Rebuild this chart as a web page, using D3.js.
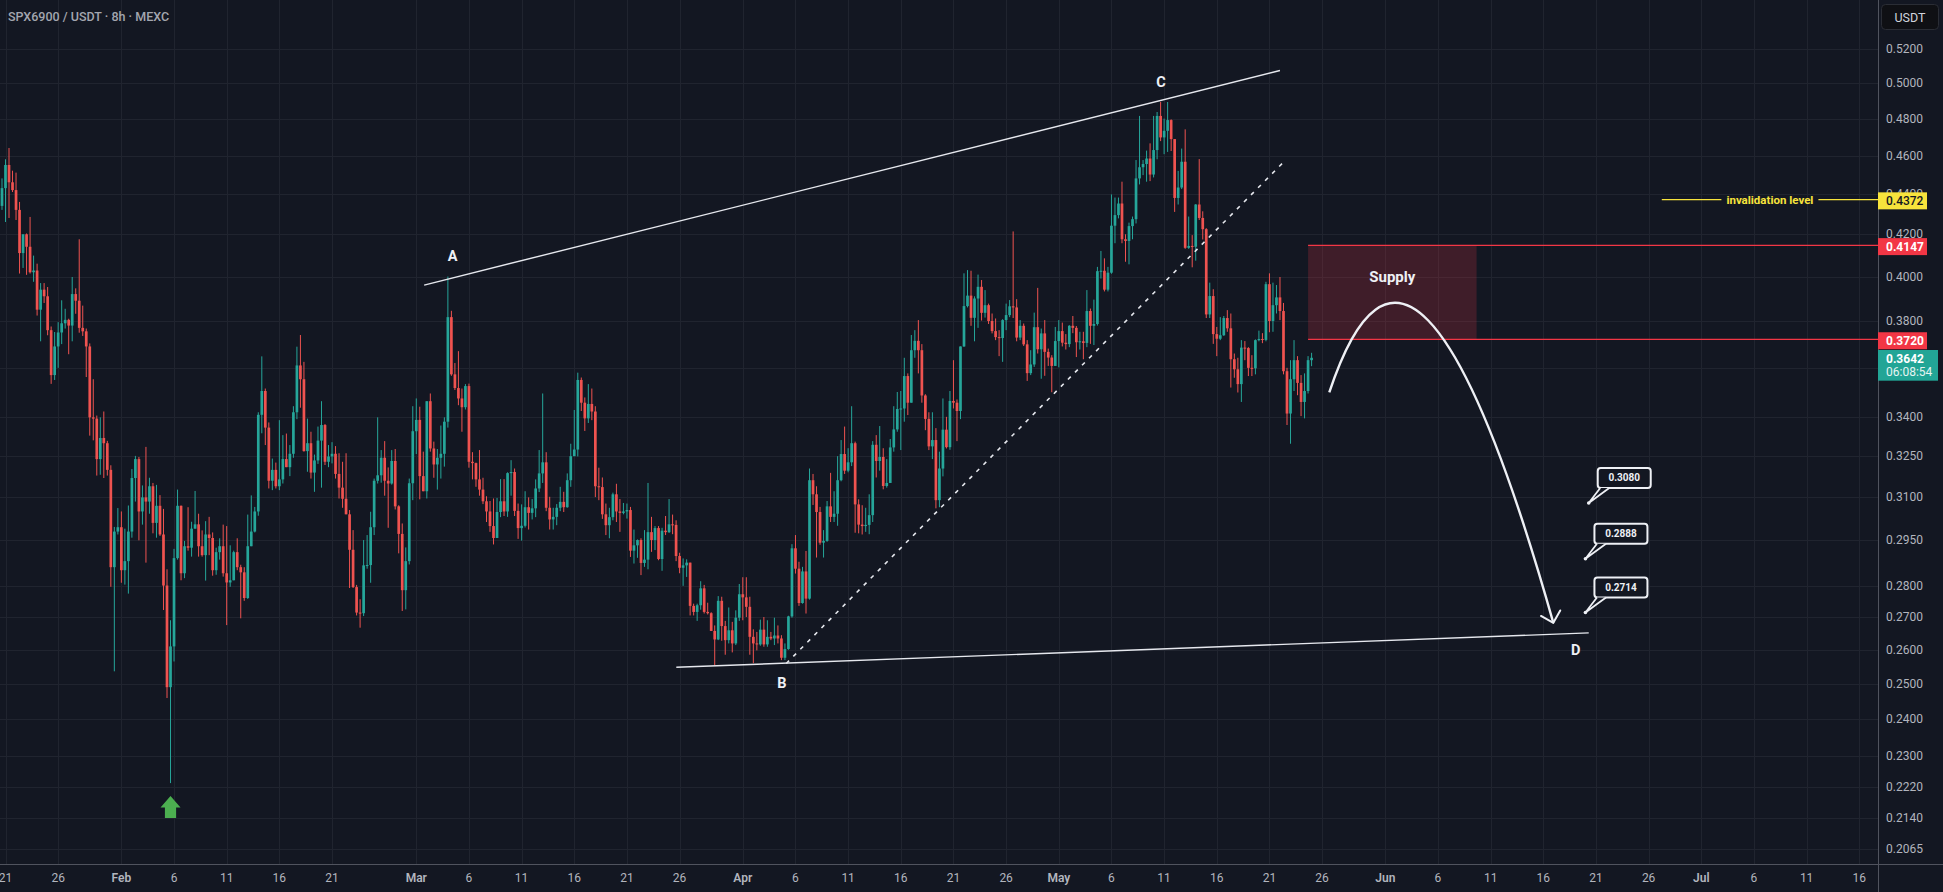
<!DOCTYPE html>
<html>
<head>
<meta charset="utf-8">
<script src="https://cdn.jsdelivr.net/npm/d3@7"></script>
<style>
  html, body { margin: 0; padding: 0; background: #131722; overflow: hidden; }
  svg { display: block; font-family: Roboto, "Noto Sans", sans-serif; }
</style>
</head>
<body>
<svg id="chart" width="1943" height="892"></svg>
<script>
(function () {
  'use strict';

  /* ── Candles: 8h bars, open = previous close ── */
  var firstCandle = '2025-01-20T08:00:00Z';
  var candleHours = 8;
  var firstOpen = 0.445;

  var closes = [
    .434,.443,.455,.446,.442,.432,.411,.420,.414,.402, .4028,.385,.394,.391,.376,.357,.369,.375,.379,.3805,
    .378,.392,.389,.377,.3755,.369,.340,.3395,.324,.332, .330,.320,.286,.298,.2995,.285,.288,.298,.317,.324,
    .305,.310,.3085,.314,.301,.307,.297,.280,.249,.261, .289,.307,.284,.293,.2925,.299,.3005,.293,.290,.297,
    .2958,.285,.291,.293,.284,.281,.2817,.291,.286,.2843, .276,.293,.298,.305,.341,
    .3505,.336,.316,.320,.314,.3165,.324,.321,.326,.342, .361,.3553,.327,.330,.319,.3235,.331,.337,.323,.325,
    .326,.3185,.3135,.3095,.304,.2918,.2795,.2714,.2712,.2866, .2867,.2995,.316,.318,.3245,.316,.315,.3233,.3068,.2972,
    .2785,.288,.3151,.3346,.339,.3177,.3122,.3464,.328,.322, .3245,.326,.3383,.3817,.3573,.3517,.3475,.344,.3525,.323,
    .3225,.3165,.3128,.3086,.305,.2999,.2958,.3048,.3086,.305, .3188,.3192,.3052,.2992,.300,.3065,
    .3045,.3061,.3132,.3187,.3228,.3063,.3022,.3031,.3063,.3084, .3065,.3162,.3251,.3276,.355,.3458,.3396,.3453,.3423,.314,
    .3137,.304,.3002,.303,.3111,.305,.3045,.305,.3055,.2915, .2933,.2951,.2874,.2885,.2978,.2951,.2992,.2887,.2983,.2978,
    .3005,.3003,.2897,.2858,.2866,.2875,.2735,.2716,.2737,.2791, .2716,.2712,.2657,.2631,.2751,.2672,.2629,.2659,.2619,.2698,
    .2772,.2762,.2732,.2639,.2619,.2616,.2661,.2616,.2639,.2634, .2643,.2634,.2576,.2602,.2702,.2923,.2855,
    .2744,.2846,.2758,.3162,.3111,.3048,.2942,.2948,.3068,.3031, .3042,.3162,.3259,.3197,.3228,.330,.3075,.3004,.2999,.3003,
    .3037,.3294,.3233,.3248,.3141,.3152,.3284,.3353,.3433,.3435, .3566,.3458,.3674,.3714,.3674,.3487,.3394,.3288,.3312,.309,
    .3205,.3352,.3285,.3465,.3458,.3425,.369,.3866,.3913,.3814, .390,.3953,.3836,.387,.380,.3756,.373,.3726,.3804,.3826,
    .3865,.386,.3728,.3779,.3699,.3578,.3614,.3773,.3678,.3746, .3667,.3643,.3608,.3713,.3756,.3706,
    .370,.3779,.377,.3708,.3712,.3705,.3844,.3779,.3787,.4025, .4027,.394,.4018,.4242,.4294,.4352,.4176,.4168,.424,.4274,
    .448,.4538,.4555,.4584,.450,.4629,.4815,.4697,.4733,.4792, .4688,.438,.4433,.4567,.4135,.4144,.414,.4347,.428,.4225,
    .3829,.3911,.3743,.3723,.3738,.3813,.3768,.3636,.3594,.3533, .3685,.3683,.360,.3598,.3717,.3722,.3718,.3965,.380,.387,
    .3905,.3844,.3586,.3415,.3553,.3632,.3538,.3461,.3505,.3632, .3642
  ];

  var highs = [
    .447,.448,.458,.464,.452,.451,.436,.420,.4204,.4285, .4098,.406,.397,.397,.3952,.3776,.3752,.3795,.3892,.3854,
    .381,.3998,.3946,.4176,.3868,.3767,.3703,.3553,.3407,.340, .3423,.3309,.3217,.2996,.3062,.305,.299,.3071,.3203,.3252,
    .3248,.3143,.3286,.3171,.3152,.3145,.3108,.3059,.2853,.269, .2921,.3128,.3071,.2948,.3065,.3014,.3123,.3042,.2984,.3016,
    .3031,.2977,.2925,.2957,.3004,.2999,.2933,.2915,.2957,.2868, .286,.3039,.3107,.3066,.342,
    .3648,.3515,.338,.3242,.3227,.3389,.3331,.3337,.3293,.3444, .3689,.3739,.3625,.3395,.3344,.3257,.3364,.3464,.3374,.3293,
    .3304,.3289,.3262,.323,.3262,.3055,.2985,.2802,.2756,.2951, .2968,.3049,.3168,.340,.3274,.3308,.3209,.3274,.3278,.3072,
    .3008,.2926,.3168,.3444,.3475,.3442,.3268,.3464,.3495,.3306, .3278,.3368,.340,.400,.3845,.362,.367,.3515,.3533,.3535,
    .3266,.3227,.3274,.3171,.3104,.3087,.3096,.3098,.3166,.3166, .3191,.3236,.3205,.3078,.3075,.3122,
    .310,.3094,.3165,.3274,.3495,.3266,.3102,.3063,.3076,.3138, .312,.3187,.3298,.3429,.358,.356,.3479,.3533,.3515,.3444,
    .3208,.3172,.3078,.3063,.3117,.3149,.3094,.308,.3078,.3066, .2987,.2953,.2957,.2985,.3152,.3031,.2999,.2999,.2993,.3034,
    .3094,.3039,.3019,.2908,.2889,.2886,.2874,.2742,.2742,.2814, .2802,.2745,.2715,.2674,.2766,.2764,.2688,.273,.2685,.2721,
    .2805,.2827,.2827,.2764,.2662,.2654,.2692,.270,.269,.2654, .2698,.2674,.2644,.2619,.2704,.2937,.2968,
    .2878,.2861,.2914,.3205,.3185,.314,.3066,.2985,.3087,.3189, .3122,.3251,.3312,.3364,.3281,.3444,.3306,.3093,.3072,.3063,
    .3111,.3308,.3331,.3366,.3281,.324,.3316,.3444,.3501,.3505, .3642,.3577,.3739,.376,.3804,.370,.3492,.342,.342,.3358,
    .3268,.3475,.3402,.3505,.3632,.3471,.369,.4015,.403,.4027, .391,.4009,.3984,.3938,.3877,.3833,.3811,.376,.3808,.3877,
    .3893,.4214,.3897,.3804,.3789,.3717,.3674,.3837,.3948,.3767, .3804,.3681,.3653,.3774,.3804,.3793,
    .3743,.3782,.3822,.3778,.3753,.3753,.3938,.3855,.3895,.4045, .412,.4085,.4045,.4398,.4382,.4382,.4463,.420,.4257,.4287,
    .4576,.4815,.4576,.4626,.4665,.4815,.4837,.4893,.480,.4893, .4796,.4687,.4519,.4637,.4741,.4287,.4196,.4349,.4581,.4313,
    .423,.3972,.3942,.3774,.3817,.3822,.3848,.3833,.366,.3642, .3717,.3713,.3687,.3653,.372,.3758,.3747,.3976,.4015,.3972,
    .3961,.3998,.388,.360,.3632,.3717,.3649,.357,.3577,.3649, .3663
  ];

  var lows = [
    .432,.432,.426,.428,.441,.427,.4014,.404,.4008,.4014, .3976,.3824,.3712,.388,.3738,.3534,.355,.36,.37,.3767,
    .3657,.3712,.3832,.3749,.3735,.3562,.3329,.3311,.3179,.3182, .317,.3179,.2796,.2536,.297,.2809,.2803,.2774,.2959,.3085,
    .295,.3004,.2875,.3042,.2974,.2959,.2965,.2722,.2459,.2229, .2565,.2885,.2817,.2824,.2915,.2895,.2995,.2895,.2895,.2816,
    .29,.2832,.2835,.2885,.2829,.2675,.2796,.2823,.285,.2696, .2751,.2757,.293,.2977,.3035,
    .3338,.3293,.3132,.3126,.3132,.3126,.315,.3211,.3177,.3245, .3393,.3438,.3268,.3193,.3168,.312,.3222,.3135,.3218,.321,
    .3224,.3168,.3096,.3063,.3042,.2792,.2792,.2705,.2667,.2703, .2855,.2809,.2968,.315,.3153,.3106,.2993,.3146,.3057,.2906,
    .2719,.2724,.2869,.309,.3259,.3093,.3122,.3096,.3268,.3171, .3128,.3168,.3212,.336,.3567,.3509,.3448,.3344,.3431,.3208,
    .3165,.3138,.3106,.3076,.3013,.2979,.2936,.2962,.3030,.3034, .3031,.3106,.3034,.2955,.2949,.2994,
    .2987,.3022,.303,.3119,.3152,.3051,.2987,.2987,.3002,.3051, .3048,.3063,.3138,.3252,.325,.3425,.3347,.3378,.3389,.3101,
    .309,.3024,.2968,.2957,.3019,.3013,.2979,.304,.3025,.2894, .2872,.2891,.2834,.2861,.2853,.2911,.2917,.2883,.2848,.2968,
    .2975,.2971,.288,.284,.2799,.2828,.2705,.2705,.2688,.2723, .2711,.2708,.2657,.2553,.2629,.2627,.2585,.2619,.2592,.2614,
    .2688,.269,.270,.2585,.256,.2598,.2612,.2609,.2609,.2629, .2614,.2619,.2569,.2569,.260,.2698,.2839,
    .2735,.2742,.2711,.2755,.3073,.2892,.2935,.2892,.2945,.3013, .3013,.300,.3158,.3185,.3191,.3214,.2976,.2974,.297,.2979,
    .2971,.3013,.3172,.3197,.3129,.3135,.3158,.3268,.3344,.3274, .3383,.3409,.3458,.3642,.3577,.3458,.335,.3274,.324,.3061,
    .3065,.3176,.328,.3275,.3435,.3308,.3393,.3688,.386,.3779, .3712,.377,.3802,.3815,.3787,.3746,.3717,.3649,.3625,.376,
    .3817,.3813,.3712,.3717,.3692,.3546,.357,.3604,.366,.3555, .3567,.3608,.350,.3611,.3602,.369,
    .3677,.3687,.3747,.3645,.3677,.3636,.3687,.3701,.3696,.3780, .3991,.3932,.3932,.4013,.4157,.4278,.4157,.4069,.4057,.4176,
    .4253,.4449,.4497,.4463,.4466,.4485,.458,.4677,.4607,.4619, .4624,.431,.4347,.4425,.413,.413,.4043,.4074,.427,.4175,
    .3813,.3813,.3701,.3649,.3717,.3735,.3753,.3519,.3559,.3499, .3461,.3632,.3566,.3566,.3573,.3712,.3704,.3712,.3751,.3753,
    .3833,.3804,.3573,.337,.3298,.3505,.3488,.3405,.3396,.3495, .3607
  ];

  /* ── Axes ── */
  var priceTicks = [0.52, 0.50, 0.48, 0.46, 0.44, 0.42, 0.40, 0.38, 0.36, 0.34, 0.325, 0.31,
                    0.295, 0.28, 0.27, 0.26, 0.25, 0.24, 0.23, 0.222, 0.214, 0.2065];
  /* 0.36 sits fully under the live-price tag, so it only gets a grid line */
  var hiddenTickLabels = [0.36];
  var dateTicks = [
    '2025-01-21', '2025-01-26',
    '2025-02-01', '2025-02-06', '2025-02-11', '2025-02-16', '2025-02-21',
    '2025-03-01', '2025-03-06', '2025-03-11', '2025-03-16', '2025-03-21', '2025-03-26',
    '2025-04-01', '2025-04-06', '2025-04-11', '2025-04-16', '2025-04-21', '2025-04-26',
    '2025-05-01', '2025-05-06', '2025-05-11', '2025-05-16', '2025-05-21', '2025-05-26',
    '2025-06-01', '2025-06-06', '2025-06-11', '2025-06-16', '2025-06-21', '2025-06-26',
    '2025-07-01', '2025-07-06', '2025-07-11', '2025-07-16'
  ];

  /* ── Drawings: [time, price] anchors ── */
  var lineAC = [['2025-03-01T18:00:00Z', 0.3961], ['2025-05-22T00:00:00Z', 0.5074]];
  var lineBD = [['2025-03-25T16:30:00Z', 0.2548], ['2025-06-20T07:30:00Z', 0.2651]];
  var lineDash = [['2025-04-05T03:00:00Z', 0.2559], ['2025-05-22T09:00:00Z', 0.4567]];
  var pathCurve = [['2025-05-26T16:20:00Z', 0.3499], ['2025-06-03T20:00:00Z', 0.4719], ['2025-06-16T22:50:00Z', 0.2682]];
  var waveLabels = [
    ['A', '2025-03-04T11:00:00Z', 0.4096],
    ['B', '2025-04-04T17:00:00Z', 0.2502],
    ['C', '2025-05-10T17:00:00Z', 0.5007],
    ['D', '2025-06-19T02:00:00Z', 0.2598]
  ];
  var supplyZone = ['2025-05-24T16:00:00Z', '2025-06-09T16:00:00Z', 0.4147, 0.3720];
  var invalidation = ['2025-06-27T06:00:00Z', 0.4372];
  var targets = [
    [0.3080, '2025-06-20T07:30:00Z'],
    [0.2888, '2025-06-20T00:00:00Z'],
    [0.2714, '2025-06-20T00:00:00Z']
  ];
  var bottomArrow = ['2025-02-05T16:00:00Z', 0.2196];
  var lastPrice = 0.3642;
  var countdown = '06:08:54';

  /* ── Colours ── */
  var BG = '#131722', GRID = '#20242f', AXIS_TXT = '#b2b5be';
  var UP = '#26a69a', DOWN = '#ef5350', RED = '#f23645', YELLOW = '#f7e33c', WHITE = '#eef0f5';

  var W = 1943, H = 892;
  var plotR = 1878, plotB = 864;

  var x = d3.scaleUtc()
    .domain([new Date('2025-01-21T00:00:00Z'), new Date('2025-07-01T00:00:00Z')])
    .range([5.5, 1701.3]);
  var y = d3.scaleLog().domain([0.2065, 0.52]).range([849.3, 49.3]);

  function px(p) { return [x(new Date(p[0])), y(p[1])]; }

  var svg = d3.select('#chart');
  svg.append('rect').attr('width', W).attr('height', H).attr('fill', BG);

  var defs = svg.append('defs');
  defs.append('clipPath').attr('id', 'plotClip')
    .append('rect').attr('width', plotR).attr('height', plotB);

  var arrowM = defs.append('marker')
    .attr('id', 'openArrow')
    .attr('markerUnits', 'userSpaceOnUse')
    .attr('viewBox', '-12 -12 14 24')
    .attr('refX', 0).attr('refY', 0)
    .attr('markerWidth', 14).attr('markerHeight', 24)
    .attr('orient', 'auto');
  arrowM.append('path')
    .attr('d', 'M-10,-10 L0,0 L-10,10')
    .attr('fill', 'none').attr('stroke', WHITE)
    .attr('stroke-width', 2).attr('stroke-linecap', 'round').attr('stroke-linejoin', 'round');

  /* ── Grid ── */
  var grid = svg.append('g');
  grid.selectAll('line.h').data(priceTicks).join('line')
    .attr('x1', 0).attr('x2', plotR)
    .attr('y1', function (d) { return Math.round(y(d)) + 0.5; })
    .attr('y2', function (d) { return Math.round(y(d)) + 0.5; })
    .attr('stroke', GRID).attr('stroke-width', 1);
  grid.selectAll('line.v').data(dateTicks).join('line')
    .attr('y1', 0).attr('y2', plotB)
    .attr('x1', function (d) { return Math.round(x(new Date(d + 'T00:00:00Z'))) + 0.5; })
    .attr('x2', function (d) { return Math.round(x(new Date(d + 'T00:00:00Z'))) + 0.5; })
    .attr('stroke', GRID).attr('stroke-width', 1);

  var plot = svg.append('g').attr('clip-path', 'url(#plotClip)');

  /* ── Candles ── */
  var t0 = +new Date(firstCandle);
  var candles = closes.map(function (c, i) {
    var o = i ? closes[i - 1] : firstOpen;
    return {
      t: new Date(t0 + i * candleHours * 3600e3),
      o: o, c: c,
      h: Math.max(highs[i], o, c),
      l: Math.min(lows[i], o, c)
    };
  });

  var bodyW = 2.7;
  var cg = plot.append('g');
  cg.selectAll('line').data(candles).join('line')
    .attr('x1', function (d) { return x(d.t); })
    .attr('x2', function (d) { return x(d.t); })
    .attr('y1', function (d) { return y(d.h); })
    .attr('y2', function (d) { return y(d.l); })
    .attr('stroke', function (d) { return d.c >= d.o ? UP : DOWN; })
    .attr('stroke-width', 1);
  cg.selectAll('rect').data(candles).join('rect')
    .attr('x', function (d) { return x(d.t) - bodyW / 2; })
    .attr('width', bodyW)
    .attr('y', function (d) { return y(Math.max(d.o, d.c)); })
    .attr('height', function (d) { return Math.max(1, Math.abs(y(d.o) - y(d.c))); })
    .attr('fill', function (d) { return d.c >= d.o ? UP : DOWN; });

  /* ── Supply zone + horizontal levels ── */
  var sx0 = x(new Date(supplyZone[0])), sx1 = x(new Date(supplyZone[1]));
  var sTop = y(supplyZone[2]), sBot = y(supplyZone[3]);
  plot.append('rect')
    .attr('x', sx0).attr('y', sTop)
    .attr('width', sx1 - sx0).attr('height', sBot - sTop)
    .attr('fill', 'rgba(242,54,69,0.2)');
  [supplyZone[2], supplyZone[3]].forEach(function (p) {
    plot.append('line')
      .attr('x1', sx0).attr('x2', plotR)
      .attr('y1', y(p)).attr('y2', y(p))
      .attr('stroke', RED).attr('stroke-width', 1.3);
  });
  plot.append('text')
    .attr('x', (sx0 + sx1) / 2).attr('y', sTop + 32)
    .attr('text-anchor', 'middle').attr('dominant-baseline', 'central')
    .attr('font-size', 15).attr('font-weight', 700).attr('fill', WHITE)
    .text('Supply');

  /* Invalidation level */
  var invY = y(invalidation[1]), invX0 = x(new Date(invalidation[0]));
  var invTxt = plot.append('text')
    .attr('x', (invX0 + plotR) / 2).attr('y', invY)
    .attr('text-anchor', 'middle').attr('dominant-baseline', 'central')
    .attr('font-size', 11.5).attr('font-weight', 700).attr('fill', YELLOW)
    .text('invalidation level');
  var invW = invTxt.node().getComputedTextLength();
  plot.append('line')
    .attr('x1', invX0).attr('x2', (invX0 + plotR) / 2 - invW / 2 - 5)
    .attr('y1', invY).attr('y2', invY)
    .attr('stroke', YELLOW).attr('stroke-width', 1.3);
  plot.append('line')
    .attr('x1', (invX0 + plotR) / 2 + invW / 2 + 5).attr('x2', plotR)
    .attr('y1', invY).attr('y2', invY)
    .attr('stroke', YELLOW).attr('stroke-width', 1.3);

  /* ── Trend lines ── */
  [lineAC, lineBD].forEach(function (ln) {
    var a = px(ln[0]), b = px(ln[1]);
    plot.append('line')
      .attr('x1', a[0]).attr('y1', a[1]).attr('x2', b[0]).attr('y2', b[1])
      .attr('stroke', '#e6e8ee').attr('stroke-width', 1.4);
  });
  var da = px(lineDash[0]), db = px(lineDash[1]);
  plot.append('line')
    .attr('x1', da[0]).attr('y1', da[1]).attr('x2', db[0]).attr('y2', db[1])
    .attr('stroke', '#e6e8ee').attr('stroke-width', 1.6)
    .attr('stroke-dasharray', '4 6');

  /* Projected path */
  var p0 = px(pathCurve[0]), pc = px(pathCurve[1]), p2 = px(pathCurve[2]);
  plot.append('path')
    .attr('d', 'M' + p0 + ' Q' + pc + ' ' + p2)
    .attr('fill', 'none').attr('stroke', WHITE).attr('stroke-width', 2.4)
    .attr('marker-end', 'url(#openArrow)');

  /* Wave labels */
  plot.selectAll('text.wave').data(waveLabels).join('text')
    .attr('class', 'wave')
    .attr('x', function (d) { return x(new Date(d[1])); })
    .attr('y', function (d) { return y(d[2]); })
    .attr('text-anchor', 'middle').attr('dominant-baseline', 'central')
    .attr('font-size', 14.5).attr('font-weight', 700).attr('fill', WHITE)
    .text(function (d) { return d[0]; });

  /* Target callouts */
  targets.forEach(function (tg) {
    var ax = x(new Date(tg[1])), ay = y(tg[0]);
    var bx = ax + 9, by = ay - 35, bw = 53, bh = 20;
    var g = plot.append('g');
    g.append('rect')
      .attr('x', bx).attr('y', by).attr('width', bw).attr('height', bh).attr('rx', 3)
      .attr('fill', BG).attr('stroke', WHITE).attr('stroke-width', 2);
    g.append('path')
      .attr('d', 'M' + (bx + 2.5) + ',' + (by + bh) + ' L' + ax + ',' + ay + ' L' + (bx + 11.5) + ',' + (by + bh))
      .attr('fill', BG).attr('stroke', WHITE).attr('stroke-width', 1.8).attr('stroke-linejoin', 'round');
    g.append('circle').attr('cx', ax).attr('cy', ay).attr('r', 1.8).attr('fill', WHITE);
    g.append('text')
      .attr('x', bx + bw / 2).attr('y', by + bh / 2)
      .attr('text-anchor', 'middle').attr('dominant-baseline', 'central')
      .attr('font-size', 10).attr('font-weight', 700).attr('fill', WHITE)
      .text(tg[0].toFixed(4));
  });

  /* Green arrow under the low */
  var gax = x(new Date(bottomArrow[0])), gay = y(bottomArrow[1]);
  plot.append('path')
    .attr('transform', 'translate(' + gax + ',' + gay + ')')
    .attr('d', 'M0,0 L10,11.6 L5.6,11.6 L5.6,22 L-5.6,22 L-5.6,11.6 L-10,11.6 Z')
    .attr('fill', '#4caf50');

  /* ── Axis frame ── */
  svg.append('line').attr('x1', plotR + 0.5).attr('x2', plotR + 0.5).attr('y1', 0).attr('y2', H)
    .attr('stroke', '#50535e').attr('stroke-width', 1);
  svg.append('line').attr('x1', 0).attr('x2', W).attr('y1', plotB + 0.5).attr('y2', plotB + 0.5)
    .attr('stroke', '#50535e').attr('stroke-width', 1);

  /* Price labels */
  var fmt = d3.format('.4f');
  svg.append('g').selectAll('text')
    .data(priceTicks.filter(function (d) { return hiddenTickLabels.indexOf(d) < 0; }))
    .join('text')
    .attr('x', 1886).attr('y', function (d) { return y(d); })
    .attr('dominant-baseline', 'central')
    .attr('font-size', 12).attr('fill', AXIS_TXT)
    .text(fmt);

  /* Date labels */
  var monthFmt = d3.utcFormat('%b');
  svg.append('g').selectAll('text').data(dateTicks).join('text')
    .attr('x', function (d) { return x(new Date(d + 'T00:00:00Z')); })
    .attr('y', 878)
    .attr('text-anchor', 'middle').attr('dominant-baseline', 'central')
    .attr('font-size', 12)
    .attr('font-weight', function (d) { return +d.slice(8) === 1 ? 600 : 400; })
    .attr('fill', AXIS_TXT)
    .text(function (d) {
      var dt = new Date(d + 'T00:00:00Z');
      return dt.getUTCDate() === 1 ? monthFmt(dt) : dt.getUTCDate();
    });

  /* Axis price boxes */
  function priceBox(p, fill, txtCol, weight) {
    var yy = y(p);
    svg.append('rect').attr('x', plotR).attr('y', yy - 7.2).attr('width', 49).attr('height', 17)
      .attr('fill', fill);
    svg.append('text').attr('x', 1886).attr('y', yy + 1.3)
      .attr('dominant-baseline', 'central')
      .attr('font-size', 12).attr('font-weight', weight).attr('fill', txtCol)
      .text(fmt(p));
  }
  priceBox(invalidation[1], YELLOW, '#131722', 500);
  priceBox(supplyZone[2], RED, '#ffffff', 700);
  priceBox(supplyZone[3], RED, '#ffffff', 700);

  var ly = y(lastPrice);
  svg.append('rect').attr('x', plotR).attr('y', ly - 7.8).attr('width', 60).attr('height', 30.7)
    .attr('fill', '#22a596');
  svg.append('text').attr('x', 1886).attr('y', ly + 0.8)
    .attr('dominant-baseline', 'central')
    .attr('font-size', 12).attr('font-weight', 700).attr('fill', '#ffffff')
    .text(fmt(lastPrice));
  svg.append('text').attr('x', 1886).attr('y', ly + 14.5)
    .attr('dominant-baseline', 'central')
    .attr('font-size', 12).attr('fill', '#e6f4f2')
    .text(countdown);

  /* ── Header ── */
  svg.append('text')
    .attr('x', 8).attr('y', 16)
    .attr('dominant-baseline', 'central')
    .attr('font-size', 12.5).attr('font-weight', 500).attr('fill', '#a3a6af')
    .text('SPX6900 / USDT · 8h · MEXC');

  svg.append('rect').attr('x', 1881.5).attr('y', 4.5).attr('width', 57).attr('height', 25).attr('rx', 4)
    .attr('fill', '#0f1014').attr('stroke', '#2a2d35').attr('stroke-width', 1);
  svg.append('text').attr('x', 1910).attr('y', 17.5)
    .attr('text-anchor', 'middle').attr('dominant-baseline', 'central')
    .attr('font-size', 12.5).attr('fill', '#d1d4dc')
    .text('USDT');
})();
</script>
</body>
</html>
